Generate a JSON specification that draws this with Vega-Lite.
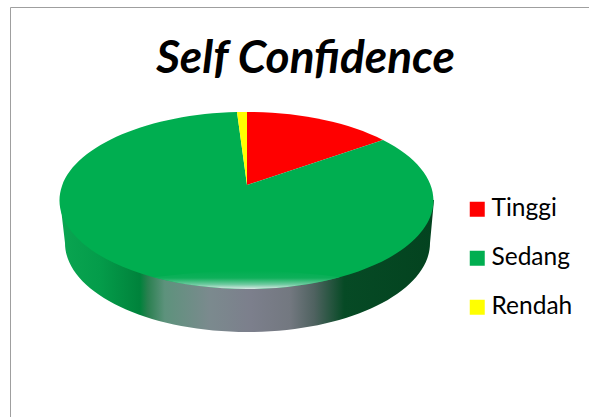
{
  "$schema": "https://vega.github.io/schema/vega-lite/v6.json",
  "width": 579,
  "height": 410,
  "autosize": {"type": "none"},
  "padding": {"left": 10, "top": 7, "right": 0, "bottom": 0},
  "background": "white",
  "config": {"view": {"stroke": null}},
  "title": {
    "text": "Self Confidence",
    "anchor": "middle",
    "frame": "group",
    "baseline": "alphabetic",
    "offset": -66,
    "dx": 6,
    "dy": 47,
    "font": "Lato",
    "fontSize": 46,
    "fontWeight": "bold",
    "fontStyle": "italic",
    "color": "black"
  },
  "layer": [
    {
      "data": {"values": [{"part": "chart frame"}]},
      "mark": {
        "type": "point",
        "filled": false,
        "opacity": 1,
        "size": 4,
        "strokeWidth": 1,
        "stroke": "#9f9f9f",
        "shape": "M-289 206 L-289 -204.5 L290 -204.5"
      }
    },
    {
      "data": {"values": [{"part": "side wall"}]},
      "mark": {
        "type": "point",
        "filled": true,
        "opacity": 1,
        "size": 4,
        "shape": "M-239.5 -12 L-234.5 31 A182.5 89 0 0 0 130.5 31 L134.5 -12 Z",
        "fill": {
          "gradient": "linear",
          "x1": 0, "y1": 0, "x2": 1, "y2": 0,
          "stops": [
            {"offset": 0, "color": "#0aa551"},
            {"offset": 0.107, "color": "#049c4a"},
            {"offset": 0.214, "color": "#00823b"},
            {"offset": 0.235, "color": "#2a8050"},
            {"offset": 0.28, "color": "#5d927c"},
            {"offset": 0.4, "color": "#7b8a8e"},
            {"offset": 0.51, "color": "#7c7f8c"},
            {"offset": 0.615, "color": "#737880"},
            {"offset": 0.68, "color": "#4f6260"},
            {"offset": 0.76, "color": "#064a25"},
            {"offset": 1, "color": "#03431f"}
          ]
        }
      }
    },
    {
      "data": {"values": [
        {"level": "Tinggi", "percent": 14},
        {"level": "Sedang", "percent": 85},
        {"level": "Rendah", "percent": 1}
      ]},
      "mark": {"type": "point", "filled": true, "opacity": 1, "size": 4},
      "encoding": {
        "color": {
          "field": "level",
          "type": "nominal",
          "scale": {
            "domain": ["Tinggi", "Sedang", "Rendah"],
            "range": ["#ff0000", "#00ae50", "#ffff00"]
          },
          "legend": {
            "title": null,
            "orient": "none",
            "legendX": 455,
            "legendY": 190,
            "symbolType": "square",
            "symbolSize": 225,
            "symbolStrokeWidth": 0,
            "symbolOpacity": 1,
            "labelFont": "Lato",
            "labelFontSize": 24.5,
            "labelColor": "black",
            "labelOffset": 2,
            "rowPadding": 24
          }
        },
        "shape": {
          "field": "percent",
          "type": "nominal",
          "legend": null,
          "scale": {
            "domain": [14, 85, 1],
            "range": [
              "M-52.5 -27 L-52.5 -100 A187 88.5 0 0 1 83.5 -72 Z",
              "M-52.5 -27 L83.5 -72 A187 88.5 0 1 1 -62.5 -99.9 Z",
              "M-52.5 -27 L-62.5 -99.9 A187 88.5 0 0 1 -52.5 -100 Z"
            ]
          }
        }
      }
    },
    {
      "data": {"values": [{"part": "rim highlight"}]},
      "mark": {
        "type": "point",
        "filled": true,
        "opacity": 1,
        "size": 4,
        "shape": "M-145.5 65.3 A187 88.5 0 0 0 40.5 65.3 Q-52.5 52 -145.5 65.3 Z",
        "fill": {
          "gradient": "linear",
          "x1": 0, "y1": 0, "x2": 0, "y2": 1,
          "stops": [
            {"offset": 0, "color": "#00ae50"},
            {"offset": 0.4, "color": "#0eb05a"},
            {"offset": 0.75, "color": "#6fcaa0"},
            {"offset": 1, "color": "#dbe9e6"}
          ]
        }
      }
    }
  ]
}
